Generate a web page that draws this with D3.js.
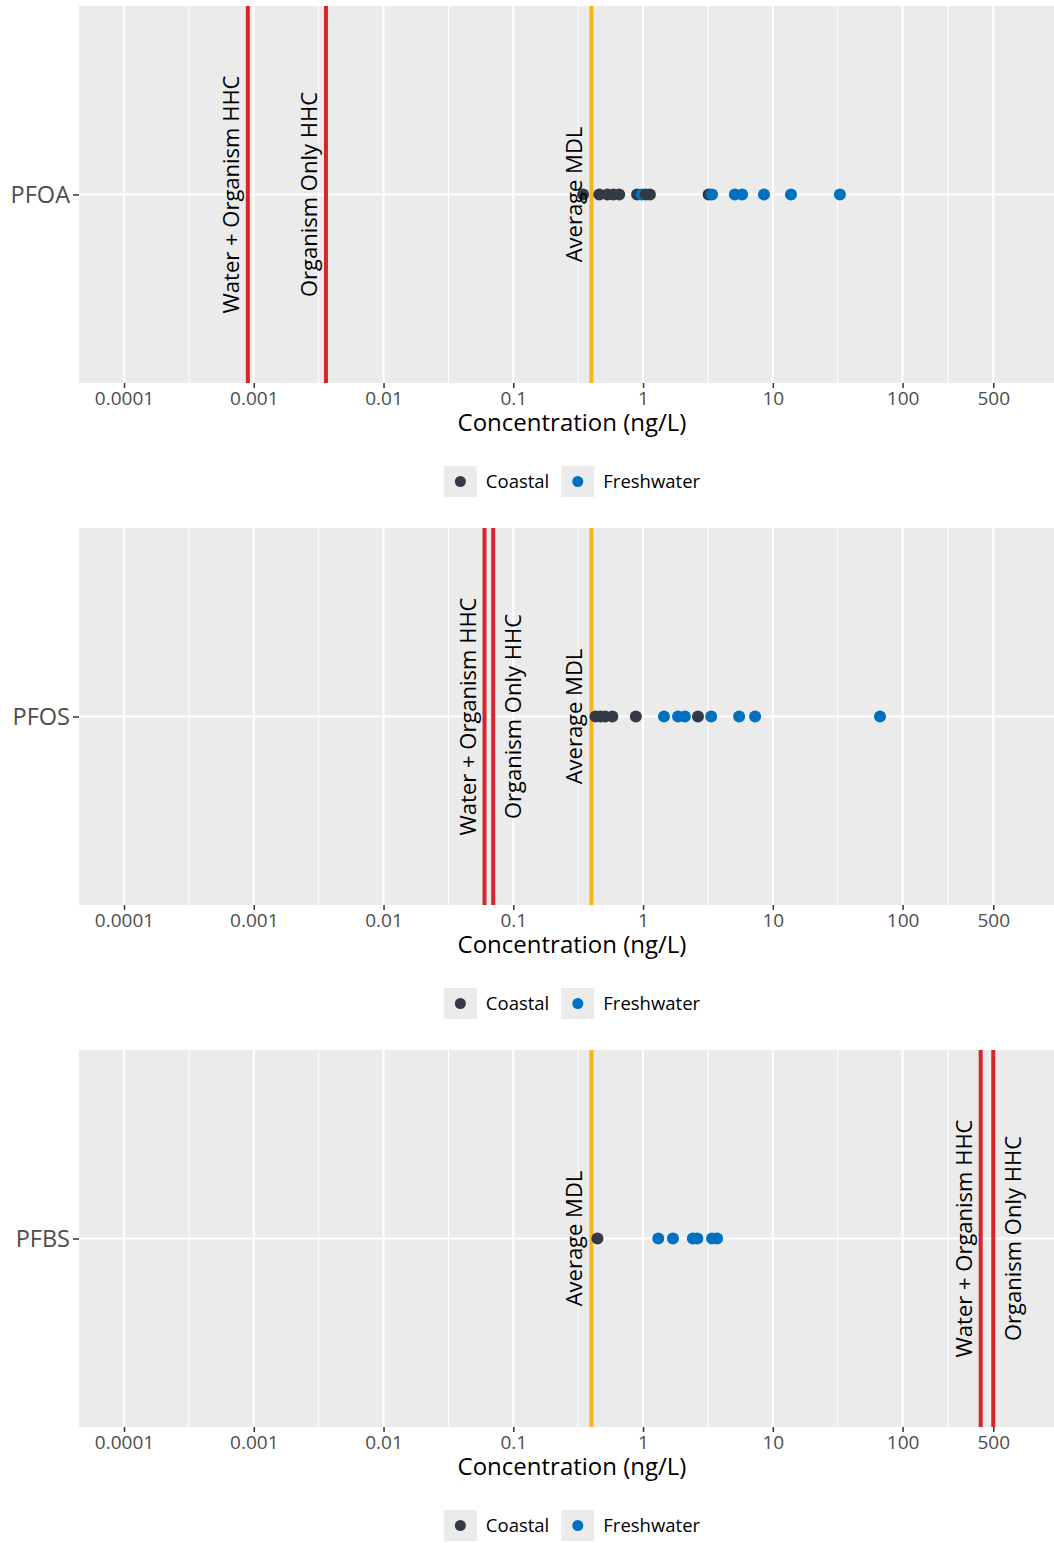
<!DOCTYPE html>
<html>
<head>
<meta charset="utf-8">
<script src="https://cdn.jsdelivr.net/npm/d3@7"></script>
<style>
  body { margin: 0; background: #ffffff; }
  svg { display: block; font-family: "Open Sans", sans-serif; }
</style>
</head>
<body>
<svg></svg>
<script>
"use strict";

// values (ng/L)
const compounds = ["PFOA", "PFOS", "PFBS"];
const groups = ["Coastal", "Freshwater"];

const tickValues = [0.0001, 0.001, 0.01, 0.1, 1, 10, 100, 500];
const tickLabels = ["0.0001", "0.001", "0.01", "0.1", "1", "10", "100", "500"];

const pfoaCoastal = [0.345, 0.46, 0.53, 0.59, 0.655, 0.9, 1.05, 1.13, 3.2];
const pfoaFreshwater = [0.98, 3.4, 5.1, 5.8, 8.55, 13.8, 32.9];
const pfosCoastal = [0.43, 0.47, 0.51, 0.58, 0.88, 2.65];
const pfosFreshwater = [1.45, 1.86, 2.1, 3.35, 5.5, 7.3, 67];
const pfbsCoastal = [0.445];
const pfbsFreshwater = [1.31, 1.7, 2.42, 2.62, 3.4, 3.72];

const waterOrganismHHC = [0.0009, 0.06, 400];
const organismOnlyHHC = [0.0036, 0.07, 500];
const averageMDL = [0.4, 0.4, 0.4];

const criteriaLabels = ["Water + Organism HHC", "Organism Only HHC", "Average MDL"];
const axisTitle = "Concentration (ng/L)";

const coastalByCompound = [pfoaCoastal, pfosCoastal, pfbsCoastal];
const freshwaterByCompound = [pfoaFreshwater, pfosFreshwater, pfbsFreshwater];

// layout
const width = 1054;
const height = 1543;
const blockHeight = 522;
const panelTop = 6;
const panelHeight = 377;
const panelLeft = 79;
const panelRight = 1054;
const centerX = 572;

const panelFill = "#ebebeb";
const groupColors = ["#343a45", "#0071c1"];
const hhcColor = "#d7252b";
const mdlColor = "#fbb41a";

// which side of its line each HHC label sits on
const labelSides = [
  ["left", "left"],
  ["left", "right"],
  ["left", "right"],
];

const svg = d3.select("svg").attr("width", width).attr("height", height);

svg.append("rect").attr("width", width).attr("height", height).attr("fill", "#ffffff");

const xScale = d3
  .scaleLog()
  .domain([Math.pow(10, -4.347), Math.pow(10, 3.167)])
  .range([panelLeft, panelRight]);

const minorValues = d3.pairs(tickValues).map(([a, b]) => Math.sqrt(a * b));

const labelX = (value, side) =>
  side === "left" ? xScale(value) - 9 : xScale(value) + 28;

const drawPanel = (compound, i) => {
  const g = svg.append("g").attr("transform", `translate(0,${i * blockHeight})`);

  const yScale = d3
    .scalePoint()
    .domain([compound])
    .range([panelTop, panelTop + panelHeight])
    .padding(0.5);
  const cy = yScale(compound);

  g.append("rect")
    .attr("x", panelLeft)
    .attr("y", panelTop)
    .attr("width", panelRight - panelLeft)
    .attr("height", panelHeight)
    .attr("fill", panelFill);

  g.selectAll(".minor")
    .data(minorValues)
    .enter()
    .append("line")
    .attr("x1", (d) => xScale(d))
    .attr("x2", (d) => xScale(d))
    .attr("y1", panelTop)
    .attr("y2", panelTop + panelHeight)
    .attr("stroke", "#ffffff")
    .attr("stroke-width", 1);

  g.selectAll(".major")
    .data(tickValues)
    .enter()
    .append("line")
    .attr("x1", (d) => xScale(d))
    .attr("x2", (d) => xScale(d))
    .attr("y1", panelTop)
    .attr("y2", panelTop + panelHeight)
    .attr("stroke", "#ffffff")
    .attr("stroke-width", 2);

  g.append("line")
    .attr("x1", panelLeft)
    .attr("x2", panelRight)
    .attr("y1", cy)
    .attr("y2", cy)
    .attr("stroke", "#ffffff")
    .attr("stroke-width", 2);

  // criteria lines
  const criteria = [
    { value: waterOrganismHHC[i], color: hhcColor, label: criteriaLabels[0], side: labelSides[i][0] },
    { value: organismOnlyHHC[i], color: hhcColor, label: criteriaLabels[1], side: labelSides[i][1] },
    { value: averageMDL[i], color: mdlColor, label: criteriaLabels[2], side: "left" },
  ];

  g.selectAll(".crit")
    .data(criteria)
    .enter()
    .append("line")
    .attr("x1", (d) => xScale(d.value))
    .attr("x2", (d) => xScale(d.value))
    .attr("y1", panelTop)
    .attr("y2", panelTop + panelHeight)
    .attr("stroke", (d) => d.color)
    .attr("stroke-width", 4);

  // points, drawn in order of value
  const points = [];
  coastalByCompound[i].forEach((v) => points.push({ value: v, group: 0 }));
  freshwaterByCompound[i].forEach((v) => points.push({ value: v, group: 1 }));
  points.sort((a, b) => a.value - b.value);

  g.selectAll(".pt")
    .data(points)
    .enter()
    .append("circle")
    .attr("cx", (d) => xScale(d.value))
    .attr("cy", cy)
    .attr("r", 6)
    .attr("fill", (d) => groupColors[d.group]);

  g.selectAll(".critLabel")
    .data(criteria)
    .enter()
    .append("text")
    .attr("transform", (d) => `translate(${labelX(d.value, d.side)},${cy}) rotate(-90)`)
    .attr("text-anchor", "middle")
    .attr("font-size", 22)
    .attr("fill", "#000000")
    .text((d) => d.label);

  // axes
  const xAxis = d3
    .axisBottom(xScale)
    .tickValues(tickValues)
    .tickFormat((d, k) => tickLabels[k])
    .tickSize(5)
    .tickPadding(4);

  const xg = g
    .append("g")
    .attr("transform", `translate(0,${panelTop + panelHeight})`)
    .call(xAxis);
  xg.select(".domain").remove();
  xg.selectAll("line").attr("stroke", "#333333").attr("stroke-width", 1.5);
  xg.selectAll("text")
    .attr("fill", "#4d4d4d")
    .attr("font-size", 19)
    .attr("font-family", "Open Sans, sans-serif");

  const yAxis = d3.axisLeft(yScale).tickSize(6).tickPadding(3);
  const yg = g.append("g").attr("transform", `translate(${panelLeft},0)`).call(yAxis);
  yg.select(".domain").remove();
  yg.selectAll("line").attr("stroke", "#333333").attr("stroke-width", 1.5);
  yg.selectAll("text")
    .attr("fill", "#4d4d4d")
    .attr("font-size", 23.5)
    .attr("font-family", "Open Sans, sans-serif");

  g.append("text")
    .attr("x", centerX)
    .attr("y", 431)
    .attr("text-anchor", "middle")
    .attr("font-size", 24)
    .attr("fill", "#000000")
    .text(axisTitle);

  // legend
  const legend = g.append("g").attr("transform", "translate(0,466)");
  const keyW = 33;
  const keyH = 31;
  const items = legend
    .selectAll(".item")
    .data(groups)
    .enter()
    .append("g");

  items
    .append("rect")
    .attr("width", keyW)
    .attr("height", keyH)
    .attr("fill", panelFill);
  items
    .append("circle")
    .attr("cx", keyW / 2)
    .attr("cy", keyH / 2)
    .attr("r", 5.5)
    .attr("fill", (d, k) => groupColors[k]);
  items
    .append("text")
    .attr("x", keyW + 9)
    .attr("y", keyH / 2 + 6.5)
    .attr("font-size", 18.5)
    .attr("fill", "#000000")
    .text((d) => d);

  const widths = [];
  items.select("text").each(function () {
    widths.push(this.getComputedTextLength());
  });
  const total = widths.reduce((s, w) => s + keyW + 9 + w, 0) + 12;
  let cursor = centerX - total / 2;
  items.attr("transform", (d, k) => {
    const pos = cursor;
    cursor += keyW + 9 + widths[k] + 12;
    return `translate(${pos},0)`;
  });
};

compounds.forEach(drawPanel);
</script>
</body>
</html>
